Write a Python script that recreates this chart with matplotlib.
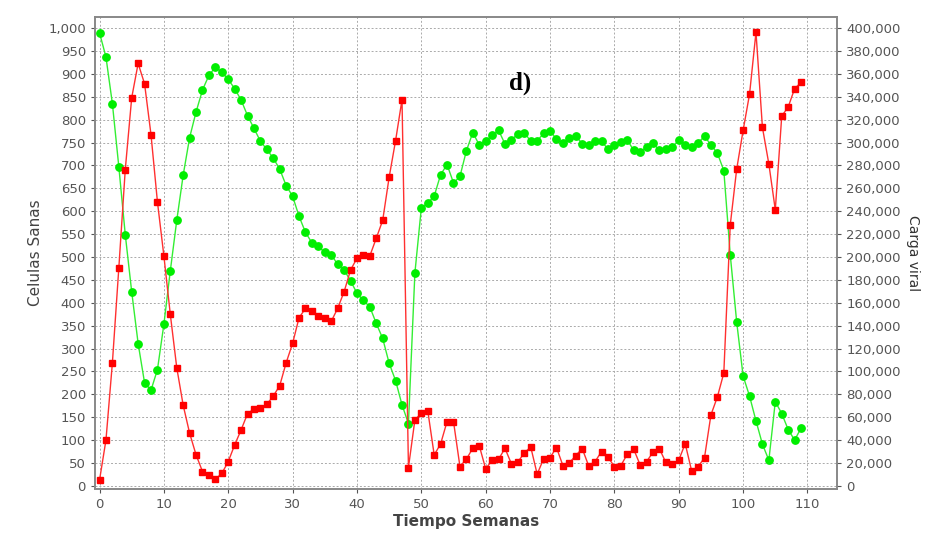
import numpy as np
import matplotlib
matplotlib.use('Agg')
import matplotlib.pyplot as plt
from matplotlib.ticker import MultipleLocator, FuncFormatter

plt.rcParams['font.family'] = ['DejaVu Sans']

# semanas 0..109
semanas = np.arange(110)

celulas_sanas = [
    990, 937, 835, 697, 549, 424, 311, 225, 209, 254,
    353, 470, 580, 679, 761, 817, 865, 897, 915, 904,
    888, 868, 843, 809, 781, 753, 735, 716, 692, 656,
    633, 589, 554, 531, 523, 510, 505, 484, 472, 448,
    421, 405, 391, 355, 322, 268, 230, 177, 136, 465,
    607, 618, 633, 680, 702, 662, 676, 732, 772, 745,
    753, 766, 777, 747, 756, 769, 772, 753, 754, 770,
    775, 758, 749, 760, 764, 748, 745, 753, 753, 736,
    744, 751, 756, 733, 729, 741, 749, 733, 736, 741,
    755, 744, 740, 749, 764, 745, 727, 689, 505, 358,
    240, 196, 142, 91, 56, 184, 158, 123, 100, 126,
]

carga_viral = [
    5000, 40000, 107600, 190500, 276400, 339200, 369200, 351400, 306900, 248100,
    201000, 149800, 103300, 70400, 46000, 27100, 12500, 9600, 5800, 10800,
    21200, 35800, 48900, 63100, 67200, 67800, 71300, 78500, 87600, 107600,
    124500, 146900, 155100, 152700, 148400, 146900, 143700, 155100, 169600, 188500,
    199000, 202200, 201000, 216400, 232100, 269700, 301700, 337500, 16000, 57600,
    63500, 65800, 27000, 36700, 56200, 56200, 16900, 23300, 32900, 35200,
    14800, 22400, 23200, 32800, 19200, 20900, 28800, 34000, 10200, 23600,
    24700, 33500, 17700, 20100, 26500, 32600, 17500, 21200, 30000, 25000,
    16900, 17700, 27600, 32000, 18300, 21200, 29400, 32300, 20400, 19500,
    22400, 36900, 13100, 16600, 24700, 62000, 77700, 98600, 228000, 276800,
    310700, 342400, 396500, 313300, 281300, 241200, 323200, 331100, 347100, 352600,
]

fig = plt.figure(figsize=(9.27, 5.38), dpi=100)
ax = fig.add_axes([0.1025, 0.091, 0.8005, 0.877])
ax2 = ax.twinx()

ax.plot(semanas, celulas_sanas, color='#33ee33', linewidth=1.0,
        marker='o', markersize=5.3, markerfacecolor='#00ee00', markeredgecolor='#00ee00')
ax2.plot(semanas, carga_viral, color='#ff3030', linewidth=1.0,
         marker='s', markersize=4.8, markerfacecolor='#ff0000', markeredgecolor='#ff0000')

ax.set_xlim(-0.7, 114.6)
ax.set_ylim(-7, 1024)
ax2.set_ylim(-7 * 400, 1024 * 400)

ax.xaxis.set_major_locator(MultipleLocator(10))
ax.yaxis.set_major_locator(MultipleLocator(50))
ax2.yaxis.set_major_locator(MultipleLocator(20000))
comma = FuncFormatter(lambda v, p: f'{int(round(v)):,}')
ax.yaxis.set_major_formatter(comma)
ax2.yaxis.set_major_formatter(comma)

ax.grid(True, color='#aaaaaa', linestyle=(0, (2, 2)), linewidth=0.7)
ax.set_axisbelow(True)

for a in (ax, ax2):
    a.tick_params(axis='both', labelsize=9.5, colors='#555555', length=3, width=0.8)
    for s in a.spines.values():
        s.set_color('#888888')
        s.set_linewidth(1.2)

ax.set_xlabel('Tiempo Semanas', fontsize=11, fontweight='bold', color='#444444', labelpad=2)
ax.set_ylabel('Celulas Sanas', fontsize=11, color='#444444', labelpad=4)
ax2.set_ylabel('Carga viral', fontsize=10, color='#333333', rotation=270, labelpad=14)

ax.text(65.3, 879, 'd)', fontsize=18, fontweight='bold', family='Liberation Serif',
        ha='center', va='center', color='black')

fig.savefig('out.png', dpi=100)
